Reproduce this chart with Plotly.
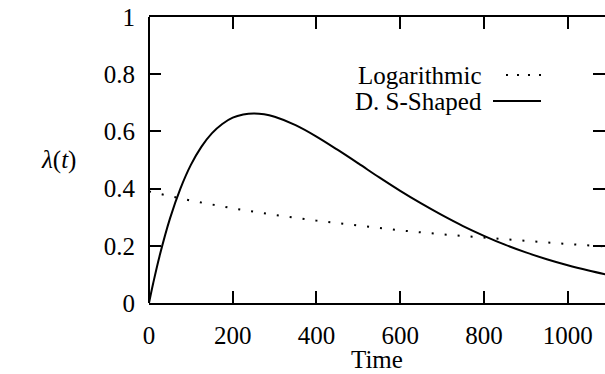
import plotly.graph_objects as go

# ---- data ----
log_time = [0, 50, 100, 200, 300, 400, 500, 600, 700, 800, 900, 1000, 1090]
log_vals = [0.390, 0.373, 0.358, 0.331, 0.308, 0.288, 0.270, 0.254, 0.240, 0.228, 0.217, 0.206, 0.198]

dss_time = [0, 10, 25, 50, 75, 100, 125, 150, 175, 200, 225, 250, 275, 300, 350, 400, 450,
            500, 550, 600, 650, 700, 750, 800, 850, 900, 950, 1000, 1050, 1090]
dss_vals = [0.0, 0.069, 0.163, 0.295, 0.400, 0.483, 0.546, 0.593, 0.626, 0.648, 0.659, 0.663,
            0.660, 0.651, 0.622, 0.582, 0.536, 0.488, 0.439, 0.392, 0.348, 0.307, 0.269, 0.235,
            0.204, 0.177, 0.153, 0.132, 0.1135, 0.100]

x_ticks = [0, 200, 400, 600, 800, 1000]
x_labels = ["0", "200", "400", "600", "800", "1000"]
y_ticks = [0, 0.2, 0.4, 0.6, 0.8, 1.0]
y_labels = ["0", "0.2", "0.4", "0.6", "0.8", "1"]

series_names = ["Logarithmic", "D. S-Shaped"]
x_title = "Time"
y_title = "<i>λ</i>(<i>t</i>)"

# ---- layout geometry (pixels) ----
W, H = 605, 374
L, T, B, R = 149, 17, 71, 0
plot_w = W - L - R
plot_h = H - T - B
x_max = plot_w / 0.4187


def px(x):
    return (x - L) / plot_w


def py(y):
    return (H - B - y) / plot_h


FONT = "Liberation Serif"
FS = 25

fig = go.Figure()
fig.add_trace(go.Scatter(x=log_time, y=log_vals, mode="lines", name=series_names[0],
                         line=dict(color="black", width=2, dash="2px,11px"),
                         showlegend=False))
fig.add_trace(go.Scatter(x=dss_time, y=dss_vals, mode="lines", name=series_names[1],
                         line=dict(color="black", width=2, shape="spline"),
                         showlegend=False))

fig.update_layout(
    width=W, height=H,
    margin=dict(l=L, r=R, t=T, b=B, pad=0),
    paper_bgcolor="white", plot_bgcolor="white",
    font=dict(family=FONT, size=FS, color="black"),
    showlegend=False,
    xaxis=dict(range=[0, x_max], tickvals=x_ticks, ticktext=x_labels,
               ticks="inside", ticklen=12, tickwidth=2, tickcolor="black",
               showline=True, linewidth=2, linecolor="black", mirror="ticks",
               showgrid=False, zeroline=False, ticklabelstandoff=9),
    yaxis=dict(range=[0, 1], tickvals=y_ticks, ticktext=y_labels,
               ticks="inside", ticklen=12, tickwidth=2, tickcolor="black",
               showline=False, mirror="ticks",
               showgrid=False, zeroline=False, ticklabelstandoff=13),
    shapes=[
        dict(type="line", xref="paper", yref="paper", x0=0, x1=0, y0=0, y1=1,
             line=dict(color="black", width=2), layer="above"),
        dict(type="line", xref="paper", yref="paper", x0=px(506), x1=px(541),
             y0=py(75), y1=py(75), line=dict(color="black", width=2, dash="2px,9px")),
        dict(type="line", xref="paper", yref="paper", x0=px(493), x1=px(541),
             y0=py(101), y1=py(101), line=dict(color="black", width=2)),
    ],
    annotations=[
        dict(text=series_names[0], xref="paper", yref="paper", x=px(484), y=py(75),
             xanchor="right", yanchor="middle", showarrow=False),
        dict(text=series_names[1], xref="paper", yref="paper", x=px(484), y=py(101),
             xanchor="right", yanchor="middle", showarrow=False),
        dict(text=x_title, xref="paper", yref="paper", x=px(377), y=py(359),
             xanchor="center", yanchor="middle", showarrow=False),
        dict(text=y_title, xref="paper", yref="paper", x=px(58), y=py(160),
             xanchor="center", yanchor="middle", showarrow=False),
    ],
)

fig.write_html("out.html")
